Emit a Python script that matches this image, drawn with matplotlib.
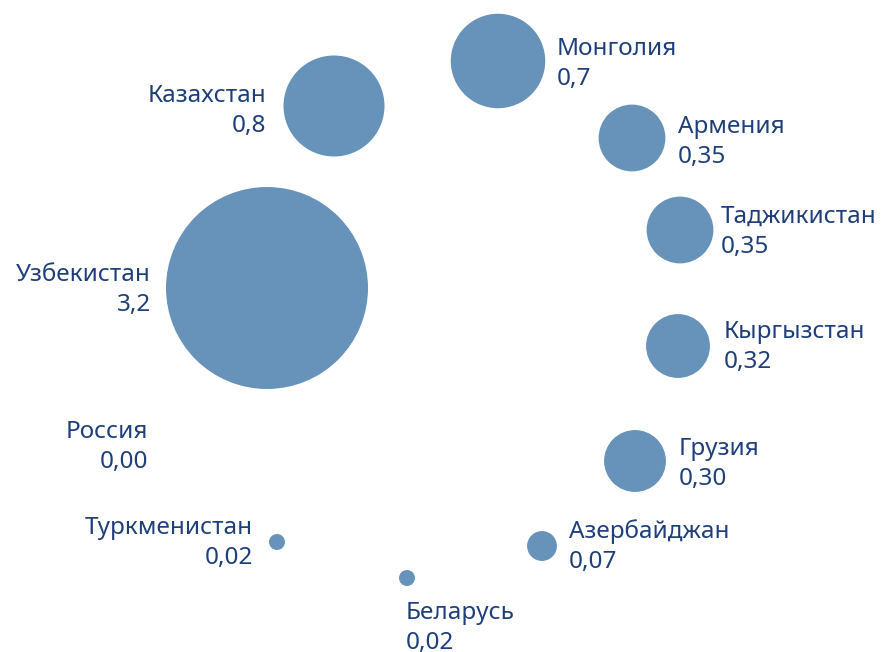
import numpy as np
import matplotlib
matplotlib.use("Agg")
import matplotlib.pyplot as plt

# data
countries = ["Узбекистан", "Казахстан", "Монголия", "Армения", "Таджикистан",
             "Кыргызстан", "Грузия", "Азербайджан", "Беларусь", "Туркменистан", "Россия"]
values = [3.2, 0.8, 0.7, 0.35, 0.35, 0.32, 0.30, 0.07, 0.02, 0.02, 0.00]
value_labels = ["3,2", "0,8", "0,7", "0,35", "0,35", "0,32", "0,30", "0,07", "0,02", "0,02", "0,00"]

# layout (pixel space of an 881x652 canvas): bubble centres, label anchors, alignment
centres = [(267, 288), (334, 106), (498, 61), (632, 138), (680, 230),
           (678, 346), (635, 461), (542, 546), (407, 578), (277, 542), (200, 446)]
label_pos = [(151, 290), (266, 111), (557, 64), (678, 142), (721, 232),
             (724, 347), (679, 464), (569, 547), (406, 628), (253, 543), (148, 447)]
label_ha = ["right", "right", "left", "left", "left",
            "left", "left", "left", "left", "right", "right"]

BUBBLE = "#6793bb"
TEXT = "#1f3f7a"
R_MAX_PX = 101  # radius of the largest bubble in pixels

W, H, DPI = 881, 652, 100
fig = plt.figure(figsize=(W / DPI, H / DPI), dpi=DPI)
ax = fig.add_axes([0, 0, 1, 1])
ax.set_xlim(0, W)
ax.set_ylim(H, 0)
ax.axis("off")

vals = np.array(values)
r_px = R_MAX_PX * np.sqrt(vals / vals.max())
sizes = (2 * r_px * 72 / DPI) ** 2

xs = [c[0] for c in centres]
ys = [c[1] for c in centres]
ax.scatter(xs, ys, s=sizes, color=BUBBLE, linewidths=0, zorder=2)

for name, lab, (lx, ly), ha in zip(countries, value_labels, label_pos, label_ha):
    ax.text(lx, ly, f"{name}\n{lab}", ha=ha, va="center", multialignment=ha,
            fontsize=17.5, color=TEXT, family="Noto Sans", linespacing=1.33)

fig.savefig("out.png", dpi=DPI)
